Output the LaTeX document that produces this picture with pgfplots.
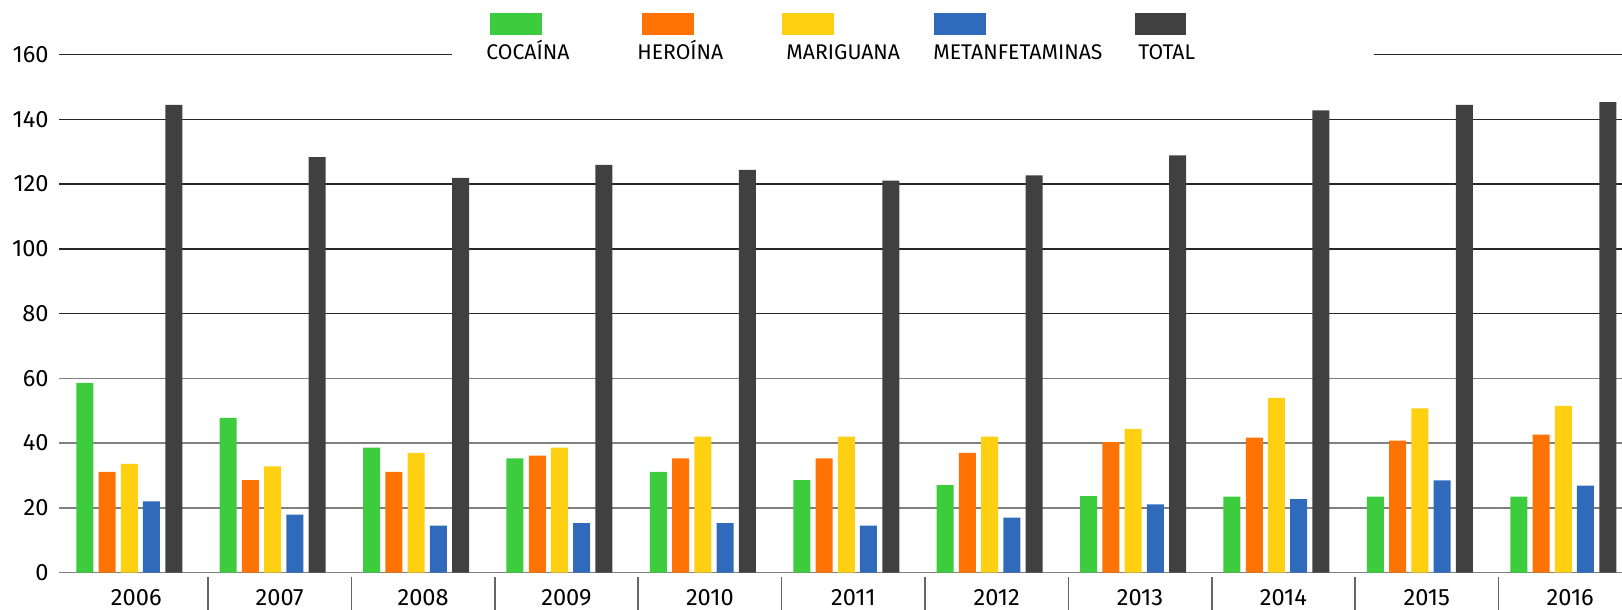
\documentclass[border=0pt]{standalone}
\usepackage{fontspec}
\setmainfont{Fira Sans}
\usepackage{pgfplots}
\usepackage{pgfplotstable}
\pgfplotsset{compat=1.18}

\definecolor{coca}{RGB}{60,204,62}
\definecolor{hero}{RGB}{255,115,5}
\definecolor{mari}{RGB}{255,208,18}
\definecolor{meta}{RGB}{48,106,186}
\definecolor{tot}{RGB}{64,64,64}

% x = 0..10 for 2006..2016
\pgfplotstableread{
x coca hero mari meta total
0  58.6 31.1 33.6 22.0 144.5
1  47.8 28.6 32.8 17.9 128.3
2  38.6 31.1 37.0 14.5 121.9
3  35.3 36.1 38.6 15.3 125.9
4  31.1 35.3 42.0 15.3 124.4
5  28.6 35.3 42.0 14.5 121.1
6  27.0 37.0 42.0 17.0 122.7
7  23.6 40.3 44.4 21.1 128.9
8  23.5 41.7 54.0 22.7 142.8
9  23.5 40.8 50.7 28.5 144.5
10 23.5 42.6 51.5 26.9 145.3
}\drugs

\begin{document}
\begin{tikzpicture}
\useasboundingbox (-29.5pt,-18.65pt) rectangle (781.5pt,286.3pt);
\begin{axis}[
  at={(0pt,0pt)}, anchor=south west,
  scale only axis, width=781.5pt, height=259pt,
  xmin=-0.539, xmax=10.361, ymin=0, ymax=160,
  ybar, bar width=8.5pt,
  axis line style={draw=none},
  ytick={80,100,120,140,160},
  extra y ticks={0,20,40,60},
  extra y tick style={grid style={color=black!50, line width=0.7pt}},
  ymajorgrids, grid style={color=black!85, line width=0.7pt},
  xtick={0,...,10},
  xticklabels={2006,2007,2008,2009,2010,2011,2012,2013,2014,2015,2016},
  minor xtick={0.5,1.5,...,9.5},
  tick pos=left,
  major tick length=0pt, minor tick length=16.5pt,
  tick align=outside,
  minor x tick style={draw=black!60, line width=0.8pt, yshift=-2pt},
  ytick style={draw=none},
  tick label style={font=\fontsize{11.8}{14}\selectfont},
  /pgf/number format/assume math mode=true,
  yticklabel style={anchor=east, inner sep=0pt, xshift=-5pt},
  xticklabel style={anchor=north, inner sep=0pt, yshift=-8.3pt},
]
\addplot[fill=coca, draw=none, bar shift=-25.75pt] table[x=x, y=coca] {\drugs};
\addplot[fill=hero, draw=none, bar shift=-14.6pt] table[x=x, y=hero] {\drugs};
\addplot[fill=mari, draw=none, bar shift=-3.5pt] table[x=x, y=mari] {\drugs};
\addplot[fill=meta, draw=none, bar shift=7.6pt] table[x=x, y=meta] {\drugs};
\addplot[fill=tot, draw=none, bar shift=18.75pt] table[x=x, y=total] {\drugs};
\end{axis}
% legend sits on the 160 line and breaks it
\fill[white] (196.5pt,257pt) rectangle (657.5pt,261pt);
\begin{scope}[every node/.style={anchor=base west, inner sep=0pt, font=\fontsize{10.6}{12}\selectfont}]
\fill[coca] (215.5pt,268.85pt) rectangle (241.5pt,279.6pt);
\node at (213.5pt,256.75pt) {COCAÍNA};
\fill[hero] (291.5pt,268.85pt) rectangle (317.5pt,279.6pt);
\node at (289pt,256.75pt) {HEROÍNA};
\fill[mari] (361.5pt,268.85pt) rectangle (387.5pt,279.6pt);
\node at (363.5pt,256.75pt) {MARIGUANA};
\fill[meta] (437.5pt,268.85pt) rectangle (463.5pt,279.6pt);
\node at (437pt,256.75pt) {METANFETAMINAS};
\fill[tot] (538pt,268.85pt) rectangle (563.5pt,279.6pt);
\node at (539.5pt,256.75pt) {TOTAL};
\end{scope}
\end{tikzpicture}
\end{document}
